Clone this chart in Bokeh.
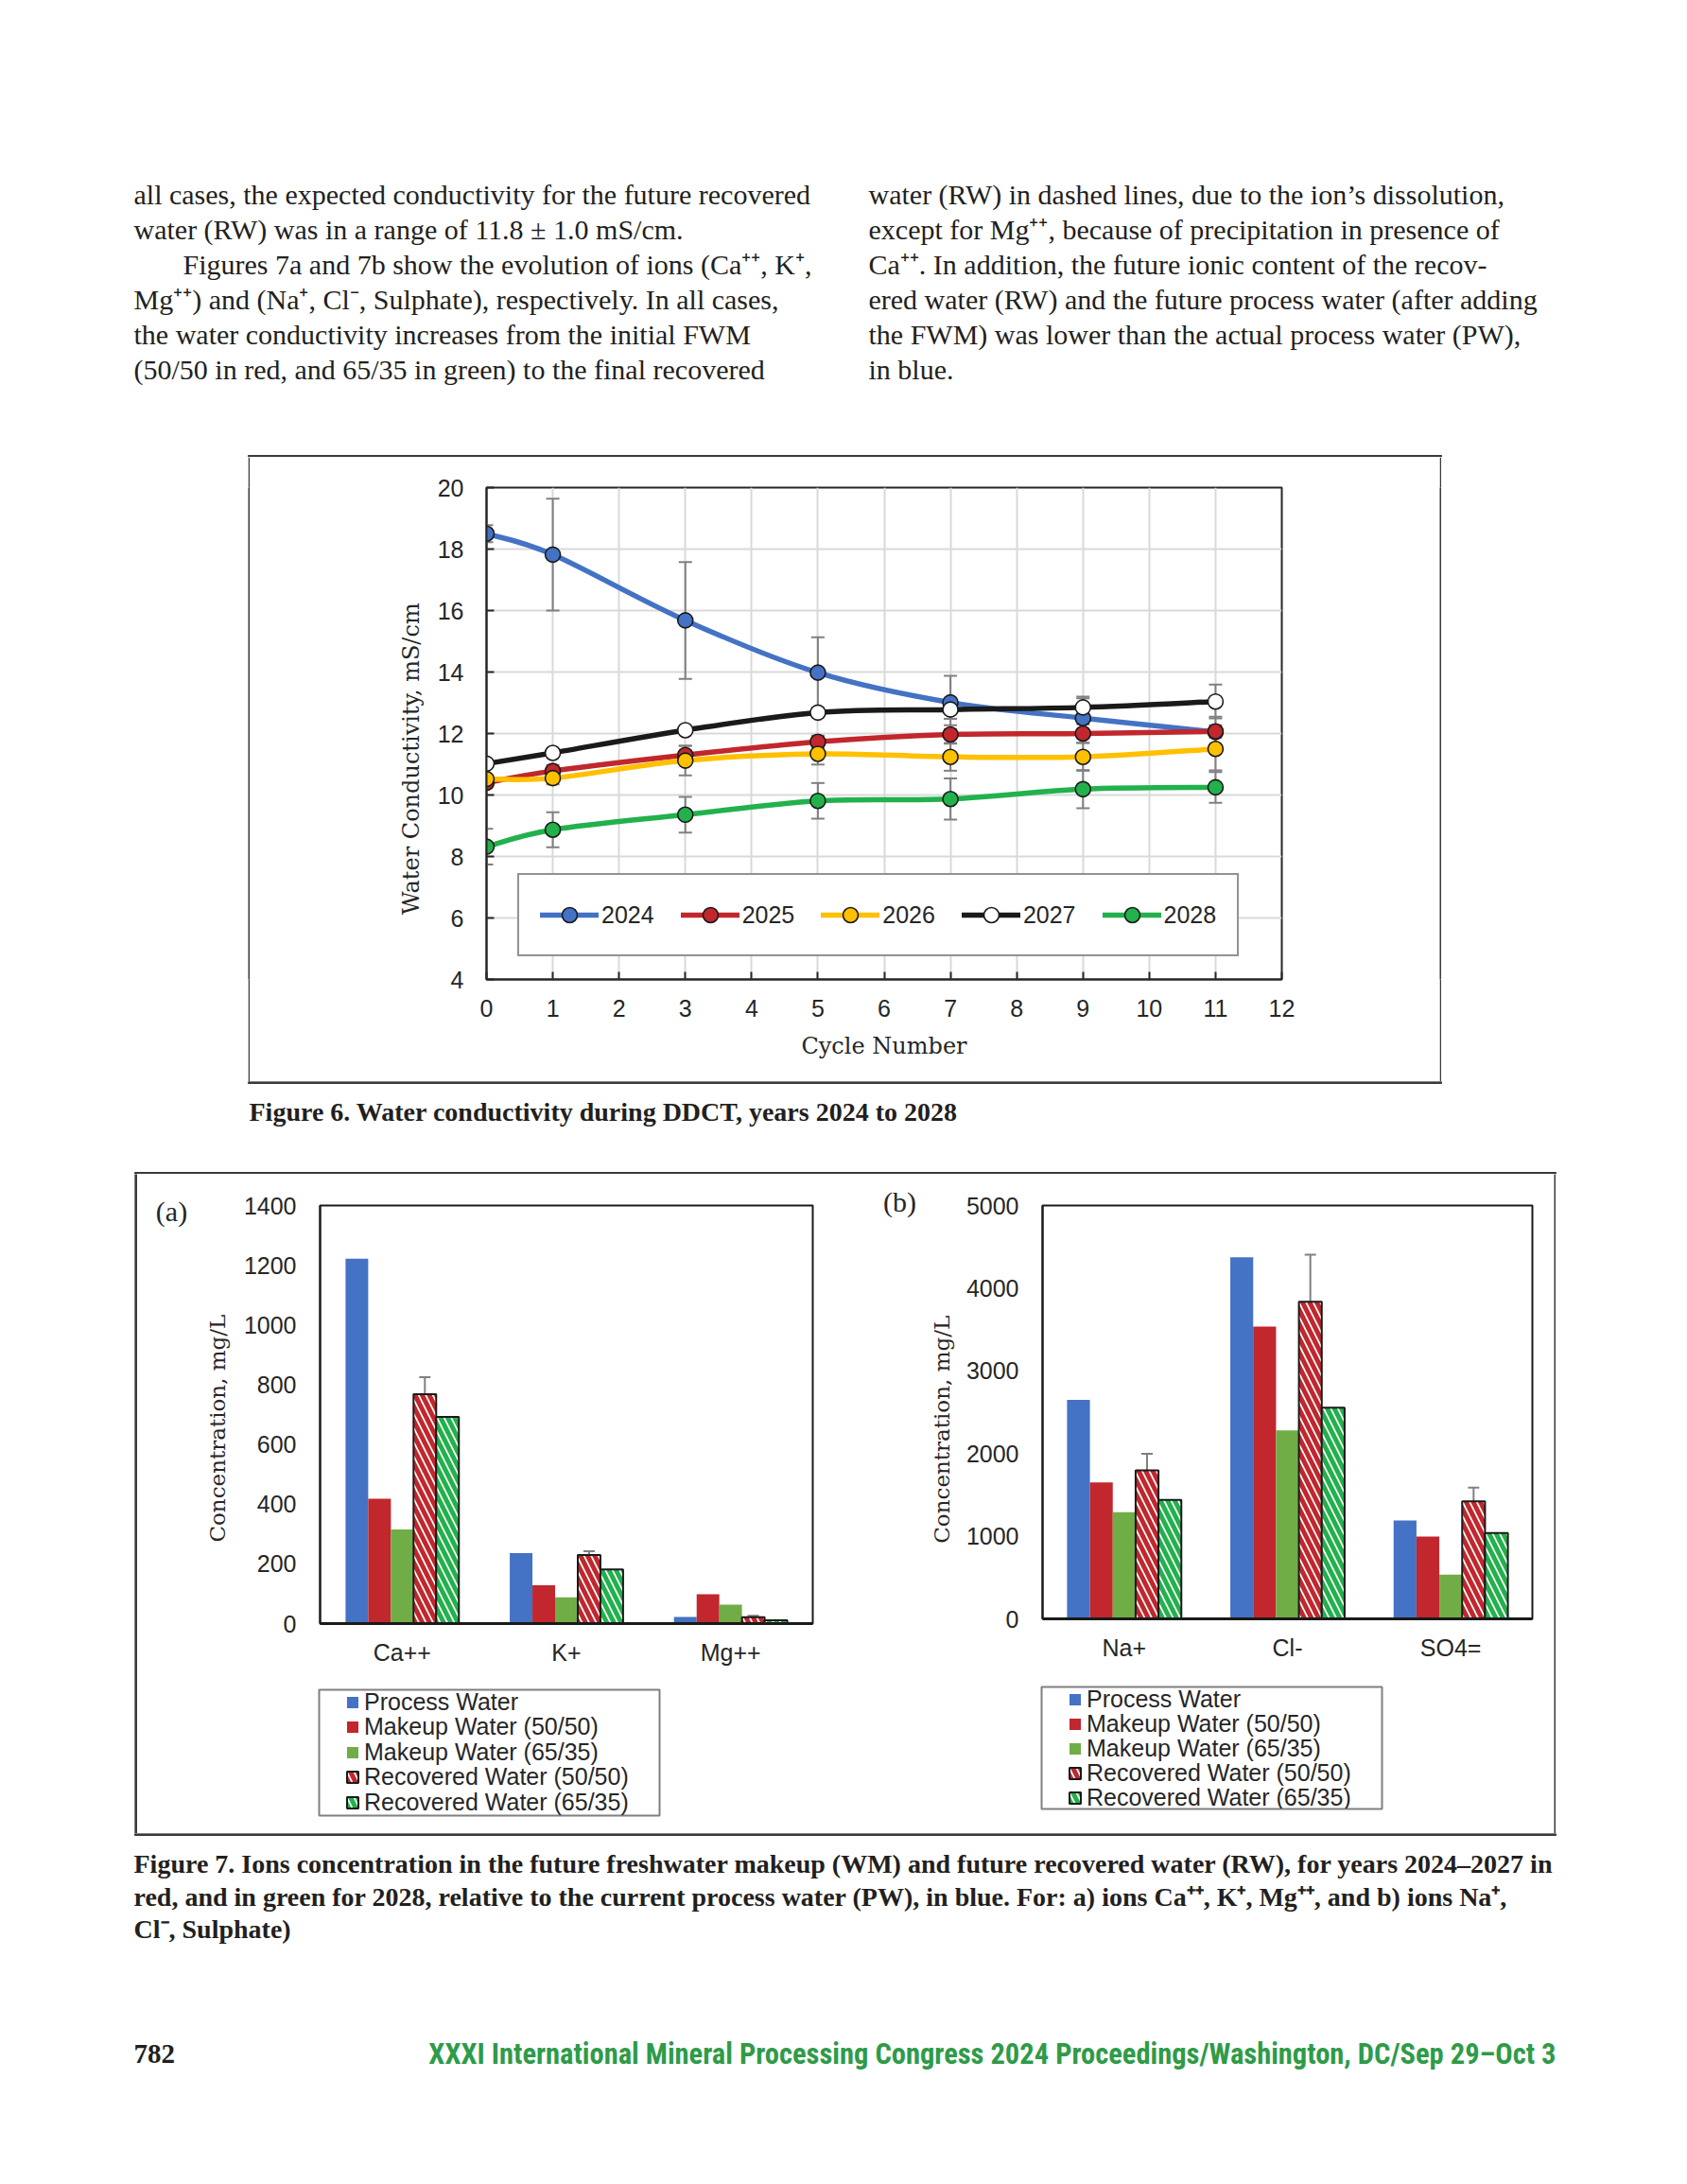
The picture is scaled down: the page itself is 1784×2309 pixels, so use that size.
from bokeh.plotting import figure
from bokeh.models import (Range1d, FactorRange, FixedTicker, Legend, LegendItem,
                          Whisker, TeeHead, ColumnDataSource, Spacer)
from bokeh.layouts import column, row
from bokeh.transform import dodge
from bokeh.core.properties import value
from bokeh.embed import file_html
from bokeh.resources import INLINE

# ---------------- data : Figure 6 ----------------
cycles = [0, 1, 3, 5, 7, 9, 11]
years = ["2024", "2025", "2026", "2027", "2028"]
cond_2024 = [18.50, 17.82, 15.68, 13.98, 13.01, 12.50, 12.05]
cond_2025 = [10.40, 10.78, 11.30, 11.73, 11.97, 12.00, 12.07]
cond_2026 = [10.52, 10.55, 11.12, 11.34, 11.24, 11.24, 11.50]
cond_2027 = [11.02, 11.37, 12.11, 12.68, 12.78, 12.85, 13.04]
cond_2028 = [8.32, 8.87, 9.36, 9.81, 9.87, 10.19, 10.25]
err_2024 = [0.28, 1.82, 1.90, 1.15, 0.87, 0.65, 0.50]
err_2025 = [0.15, 0.20, 0.30, 0.20, 0.30, 0.30, 0.20]
err_2026 = [0.10, 0.20, 0.48, 0.35, 0.45, 0.45, 0.70]
err_2027 = [0.10, 0.10, 0.10, 0.15, 0.30, 0.35, 0.55]
err_2028 = [0.58, 0.57, 0.58, 0.58, 0.67, 0.62, 0.50]
x_ticks6 = list(range(0, 13))
y_ticks6 = [4, 6, 8, 10, 12, 14, 16, 18, 20]

# ---------------- data : Figure 7 ----------------
ions_a = ["Ca++", "K+", "Mg++"]
process_a = [1222, 236, 22]
makeup50_a = [418, 128, 98]
makeup65_a = [315, 88, 63]
recov50_a = [768, 230, 21]
recov65_a = [692, 181, 11]
err50_a = [57, 12, 5]
y_ticks_a = [0, 200, 400, 600, 800, 1000, 1200, 1400]

ions_b = ["Na+", "Cl-", "SO4="]
process_b = [2650, 4375, 1191]
makeup50_b = [1650, 3535, 996]
makeup65_b = [1291, 2281, 535]
recov50_b = [1797, 3836, 1422]
recov65_b = [1438, 2555, 1038]
err50_b = [200, 570, 165]
y_ticks_b = [0, 1000, 2000, 3000, 4000, 5000]

series7 = ["Process Water", "Makeup Water (50/50)", "Makeup Water (65/35)",
           "Recovered Water (50/50)", "Recovered Water (65/35)"]

# ---------------- text ----------------
left_lines = [
    "all cases, the expected conductivity for the future recovered",
    "water (RW) was in a range of 11.8 ± 1.0 mS/cm.",
    "Figures 7a and 7b show the evolution of ions (Ca⁺⁺, K⁺,",
    "Mg⁺⁺) and (Na⁺, Cl⁻, Sulphate), respectively. In all cases,",
    "the water conductivity increases from the initial FWM",
    "(50/50 in red, and 65/35 in green) to the final recovered",
]
right_lines = [
    "water (RW) in dashed lines, due to the ion’s dissolution,",
    "except for Mg⁺⁺, because of precipitation in presence of",
    "Ca⁺⁺. In addition, the future ionic content of the recov-",
    "ered water (RW) and the future process water (after adding",
    "the FWM) was lower than the actual process water (PW),",
    "in blue.",
]
cap6 = "Figure 6. Water conductivity during DDCT, years 2024 to 2028"
cap7 = [
    "Figure 7. Ions concentration in the future freshwater makeup (WM) and future recovered water (RW), for years 2024–2027 in",
    "red, and in green for 2028, relative to the current process water (PW), in blue. For: a) ions Ca⁺⁺, K⁺, Mg⁺⁺, and b) ions Na⁺,",
    "Cl⁻, Sulphate)",
]
page_no = "782"
footer = "XXXI International Mineral Processing Congress 2024 Proceedings/Washington, DC/Sep 29–Oct 3"
ylabel6 = "Water Conductivity, mS/cm"
ylabel7 = "Concentration, mg/L"

# ---------------- styles ----------------
INK = "#262626"
TXT = "#231f20"
BOX = "#3a3a3a"
GRID = "#d9d9d9"
BLUE = "#4472C4"
RED = "#C1272D"
YEL = "#FFC000"
BLK = "#1a1a1a"
GRN = "#22B14C"
BGRN = "#70AD47"
ERR = "#808080"
SANS = "Liberation Sans"
SERIF = "Liberation Serif"
AXSERIF = "DejaVu Serif"
PAGE_W = 1784
NBSP = "\u00a0"


def page_fig(x0, x1, y_top, y_bot):
    p = figure(width=x1 - x0, height=y_bot - y_top, x_range=Range1d(x0, x1),
               y_range=Range1d(y_bot, y_top), toolbar_location=None, output_backend="svg",
               min_border=0, title=None, x_axis_type=None, y_axis_type=None)
    p.grid.visible = False
    p.outline_line_color = None
    return p


def strip(w, h):
    s = figure(width=w, height=h, x_range=Range1d(0, 1), y_range=Range1d(0, 1),
               toolbar_location=None, output_backend="svg", min_border=0, title=None,
               x_axis_type=None, y_axis_type=None)
    s.grid.visible = False
    s.outline_line_color = None
    s.background_fill_color = BOX
    s.border_fill_color = BOX
    return s


def smooth_segments(xs, ys):
    out = dict(x0=[], y0=[], x1=[], y1=[], cx0=[], cy0=[], cx1=[], cy1=[])
    n = len(xs)
    for i in range(n - 1):
        xp, yp = (xs[i - 1], ys[i - 1]) if i > 0 else (xs[i], ys[i])
        xn, yn = (xs[i + 2], ys[i + 2]) if i + 2 < n else (xs[i + 1], ys[i + 1])
        out["x0"].append(xs[i]); out["y0"].append(ys[i])
        out["x1"].append(xs[i + 1]); out["y1"].append(ys[i + 1])
        out["cx0"].append(xs[i] + (xs[i + 1] - xp) / 6.0)
        out["cy0"].append(ys[i] + (ys[i + 1] - yp) / 6.0)
        out["cx1"].append(xs[i + 1] - (xn - xs[i]) / 6.0)
        out["cy1"].append(ys[i + 1] - (yn - ys[i]) / 6.0)
    return out


# ---------------- section 1 : body text (page y 0..483) ----------------
sec1 = page_fig(0, PAGE_W, 0, 483)
base_y = [205, 242, 279, 316, 353, 390]
lx = [141, 141, 193, 141, 141, 141]
sec1.text(x=lx, y=base_y, text=left_lines, text_font=value(SERIF), text_font_size="30px",
          text_color=TXT, text_baseline="alphabetic")
sec1.text(x=[918] * 6, y=base_y, text=right_lines, text_font=value(SERIF), text_font_size="30px",
          text_color=TXT, text_baseline="alphabetic")
sec1.quad(left=[262], right=[1524], top=[481], bottom=[483], color=BOX)

# ---------------- Figure 6 (page y 483..1143) ----------------
f6 = figure(width=1258, height=660, x_range=Range1d(0, 12), y_range=Range1d(4, 20),
            toolbar_location=None, output_backend="svg", title=None,
            min_border_left=250, min_border_right=167, min_border_top=32, min_border_bottom=108)
f6.xaxis.ticker = FixedTicker(ticks=x_ticks6)
f6.yaxis.ticker = FixedTicker(ticks=y_ticks6)
f6.xgrid.ticker = FixedTicker(ticks=x_ticks6)
f6.ygrid.ticker = FixedTicker(ticks=y_ticks6)
f6.grid.grid_line_color = GRID
f6.grid.grid_line_width = 2
f6.outline_line_color = INK
f6.outline_line_width = 2
for ax in (f6.xaxis, f6.yaxis):
    ax.axis_line_color = INK
    ax.axis_line_width = 2
    ax.major_tick_line_color = INK
    ax.major_tick_line_width = 2
    ax.major_tick_in = 8
    ax.major_tick_out = 0
    ax.minor_tick_line_color = None
    ax.major_label_text_font = SANS
    ax.major_label_text_font_size = "25px"
    ax.major_label_text_color = INK
    ax.axis_label_text_font = AXSERIF
    ax.axis_label_text_font_size = "24px"
    ax.axis_label_text_font_style = "normal"
    ax.axis_label_text_color = INK
f6.xaxis.axis_label = "Cycle Number"
# trailing no-break spaces move the rotated label slightly down, as in the original
f6.yaxis.axis_label = ylabel6 + NBSP * 7
f6.yaxis.major_label_standoff = 24
f6.xaxis.major_label_standoff = 21
f6.yaxis.axis_label_standoff = 11
f6.xaxis.axis_label_standoff = 14

series6 = [(cond_2024, err_2024, BLUE, BLUE), (cond_2025, err_2025, RED, RED),
           (cond_2026, err_2026, YEL, YEL), (cond_2027, err_2027, BLK, "white"),
           (cond_2028, err_2028, GRN, GRN)]
for vals, errs, _, _ in series6:
    src = ColumnDataSource(dict(x=cycles, up=[v + e for v, e in zip(vals, errs)],
                                lo=[v - e for v, e in zip(vals, errs)]))
    w = Whisker(base="x", upper="up", lower="lo", source=src, line_color=ERR, line_width=2,
                level="underlay",
                upper_head=TeeHead(size=14, line_color=ERR, line_width=2),
                lower_head=TeeHead(size=14, line_color=ERR, line_width=2))
    f6.add_layout(w)

items6 = []
for name, (vals, errs, col, fill) in zip(years, series6):
    seg = ColumnDataSource(smooth_segments(cycles, vals))
    rl = f6.bezier(x0="x0", y0="y0", x1="x1", y1="y1", cx0="cx0", cy0="cy0", cx1="cx1", cy1="cy1",
                   source=seg, line_color=col, line_width=5.5, line_cap="round")
    rm = f6.scatter(x=cycles, y=vals, size=16, marker="circle", fill_color=fill,
                    line_color=BLK, line_width=1.6)
    items6.append(LegendItem(label=name, renderers=[rl, rm]))

leg6 = Legend(items=items6, orientation="horizontal", location=(33, 24),
              glyph_width=62, glyph_height=40, label_standoff=3, spacing=28, padding=22,
              label_text_font=SANS, label_text_font_size="25px", label_text_color=INK,
              border_line_color=INK, border_line_width=2, background_fill_alpha=1.0)
f6.add_layout(leg6)

sec2 = row(Spacer(width=262, height=660), strip(2, 660), f6, strip(2, 660),
           Spacer(width=PAGE_W - 1524, height=660))

# ---------------- section 3 : caption 6 (page y 1143..1241) ----------------
sec3 = page_fig(0, PAGE_W, 1143, 1241)
sec3.quad(left=[262], right=[1524], top=[1143], bottom=[1145], color=BOX)
sec3.quad(left=[142], right=[1645], top=[1239], bottom=[1241], color=BOX)
sec3.text(x=[263], y=[1175], text=[cap6], text_font=value(SERIF), text_font_size="28px",
          text_font_style="bold", text_color=TXT, text_baseline="alphabetic")


# ---------------- Figure 7 (page y 1241..1938) ----------------
def bar_styles():
    return [dict(fill_color=BLUE, line_color=None),
            dict(fill_color=RED, line_color=None),
            dict(fill_color=BGRN, line_color=None),
            dict(fill_color="white", hatch_pattern="left_diagonal_line", hatch_color=RED,
                 hatch_weight=5, hatch_scale=15, line_color=BLK, line_width=2),
            dict(fill_color="white", hatch_pattern="left_diagonal_line", hatch_color=GRN,
                 hatch_weight=5, hatch_scale=15, line_color=BLK, line_width=2)]


def bar_panel(ions, vals, errs, yt, ymax, x_left, x_right, frame_left, frame_right,
              frame_bottom, bw, lab_standoff, label_pad, box_l, box_t, box_w, box_h, row_c):
    top_h = 1770 - 1241
    chart_w = x_right - x_left
    p = figure(width=chart_w, height=top_h, x_range=FactorRange(factors=ions),
               y_range=Range1d(0, ymax), toolbar_location=None, output_backend="svg", title=None,
               min_border_left=frame_left - x_left, min_border_right=x_right - frame_right,
               min_border_top=1274 - 1241, min_border_bottom=1770 - frame_bottom)
    p.grid.visible = False
    p.outline_line_color = BLK
    p.outline_line_width = 2
    p.yaxis.ticker = FixedTicker(ticks=yt)
    for ax in (p.xaxis, p.yaxis):
        ax.major_tick_line_color = None
        ax.minor_tick_line_color = None
        ax.major_tick_in = 0
        ax.major_tick_out = 0
        ax.major_label_text_font = SANS
        ax.major_label_text_font_size = "25px"
        ax.major_label_text_color = INK
        ax.axis_label_text_font = AXSERIF
        ax.axis_label_text_font_size = "23px"
        ax.axis_label_text_font_style = "normal"
        ax.axis_label_text_color = INK
    p.xaxis.axis_line_color = BLK
    p.xaxis.axis_line_width = 3
    p.yaxis.axis_line_color = BLK
    p.yaxis.axis_line_width = 2
    p.yaxis.axis_label = ylabel7 + NBSP * label_pad
    p.yaxis.major_label_standoff = 25
    p.yaxis.axis_label_standoff = lab_standoff
    p.xaxis.major_label_standoff = 16

    data = dict(ion=ions, s0=vals[0], s1=vals[1], s2=vals[2], s3=vals[3], s4=vals[4],
                up=[v + e for v, e in zip(vals[3], errs)], lo=[v - e for v, e in zip(vals[3], errs)])
    src = ColumnDataSource(data)
    offs = [-2 * bw, -bw, 0, bw, 2 * bw]
    styles = bar_styles()
    for k in range(5):
        p.vbar(x=dodge("ion", offs[k], range=p.x_range), top="s%d" % k, width=bw,
               source=src, **styles[k])
    wk = Whisker(base=dodge("ion", offs[3], range=p.x_range), upper="up", lower="lo", source=src,
                 line_color=ERR, line_width=2,
                 upper_head=TeeHead(size=12, line_color=ERR, line_width=2),
                 lower_head=TeeHead(size=12, line_color=ERR, line_width=2))
    p.add_layout(wk)

    # legend panel below the chart: its frame outline is the legend box
    lw, lh = box_w + 4, box_h + 4
    lf = figure(width=lw, height=lh, x_range=p.x_range, y_range=p.y_range, toolbar_location=None,
                output_backend="svg", min_border=2, title=None, x_axis_type=None, y_axis_type=None)
    lf.grid.visible = False
    lf.outline_line_color = ERR
    lf.outline_line_width = 2
    box_bottom = box_t + box_h
    for k in range(5):
        r = lf.vbar(x=dodge("ion", offs[k], range=p.x_range), top="s%d" % k, width=bw,
                    source=src, visible=False, **styles[k])
        item = LegendItem(label=series7[k], renderers=[r])
        # one row per legend so that the rows keep the tight spacing of the original
        leg = Legend(items=[item], orientation="vertical",
                     location=(28, box_bottom - row_c[k] - 18),
                     glyph_width=15, glyph_height=15, label_standoff=5, spacing=0, padding=0,
                     label_height=34, label_text_font=SANS, label_text_font_size="25px",
                     label_text_baseline="alphabetic",
                     label_text_color=INK, border_line_color=None, background_fill_alpha=0.0)
        lf.add_layout(leg)

    gap = Spacer(width=chart_w, height=(box_t - 2) - 1770)
    leg_row = row(Spacer(width=(box_l - 2) - x_left, height=lh), lf,
                  Spacer(width=chart_w - ((box_l - 2) - x_left) - lw, height=lh))
    rest = Spacer(width=chart_w, height=1938 - (box_t - 2 + lh))
    return column(p, gap, leg_row, rest)


colA = bar_panel(ions_a, [process_a, makeup50_a, makeup65_a, recov50_a, recov65_a], err50_a,
                 y_ticks_a, 1400, 205, 880, 338, 859, 1716, 0.138, 12, 4,
                 337, 1786, 360, 133, [1798, 1824.5, 1851, 1877.5, 1904])
colB = bar_panel(ions_b, [process_b, makeup50_b, makeup65_b, recov50_b, recov65_b], err50_b,
                 y_ticks_b, 5000, 975, 1643, 1102, 1620, 1711, 0.14, 10, 5,
                 1101, 1783, 360, 129, [1795, 1821, 1847, 1873, 1899])

# left box edge + "(a)" tag, and the "(b)" tag between the two charts
left7 = page_fig(142, 205, 1241, 1938)
left7.quad(left=[142], right=[144], top=[1241], bottom=[1938], color=BOX)
left7.text(x=[181], y=[1280], text=["(a)"], text_font=value(SERIF), text_font_size="30px",
           text_align="center", text_baseline="middle", text_color=INK)
mid7 = page_fig(880, 975, 1241, 1938)
mid7.text(x=[951], y=[1270], text=["(b)"], text_font=value(SERIF), text_font_size="30px",
          text_align="center", text_baseline="middle", text_color=INK)

sec4 = row(Spacer(width=142, height=697), left7, colA, mid7, colB, strip(2, 697),
           Spacer(width=PAGE_W - 1645, height=697))

# ---------------- section 5 : caption 7 + footer (page y 1938..2309) ----------------
sec5 = page_fig(0, PAGE_W, 1938, 2309)
sec5.quad(left=[142], right=[1645], top=[1938], bottom=[1940], color=BOX)
sec5.text(x=[141, 141, 141], y=[1970, 2005, 2039], text=cap7, text_font=value(SERIF),
          text_font_size="28px", text_font_style="bold", text_color=TXT,
          text_baseline="alphabetic")
sec5.text(x=[141], y=[2171], text=[page_no], text_font=value(SERIF), text_font_size="29px",
          text_font_style="bold", text_color=TXT, text_baseline="alphabetic")
sec5.text(x=[1645], y=[2171], text=[footer],
          text_font=value("'Liberation Sans Narrow', 'Roboto Condensed', Roboto"),
          text_font_size="30.5px", text_font_style="bold", text_color="#2E9B48",
          text_align="right", text_baseline="alphabetic")

page = column(sec1, sec2, sec3, sec4, sec5)

with open("out.html", "w") as fh:
    fh.write(file_html(page, INLINE))
